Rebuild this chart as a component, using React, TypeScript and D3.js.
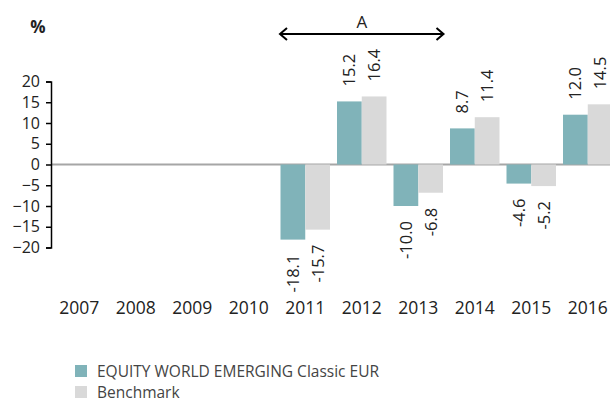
import React, { useEffect, useRef } from 'react';
import * as d3 from 'd3';

const years = ['2007', '2008', '2009', '2010', '2011', '2012', '2013', '2014', '2015', '2016'];
const fundValues: (number | null)[] = [null, null, null, null, -18.1, 15.2, -10.0, 8.7, -4.6, 12.0];
const benchValues: (number | null)[] = [null, null, null, null, -15.7, 16.4, -6.8, 11.4, -5.2, 14.5];
const yTicks = [20, 15, 10, 5, 0, -5, -10, -15, -20];
const seriesNames = ['EQUITY WORLD EMERGING Classic EUR', 'Benchmark'];
const seriesColors = ['#80b3b9', '#d9d9d9'];
const periodStart = '2011';
const periodEnd = '2013';
const periodLabel = 'A';

export default function App() {
  const svgRef = useRef<SVGSVGElement | null>(null);

  useEffect(() => {
    if (!svgRef.current) return;
    const svg = d3.select(svgRef.current);
    svg.selectAll('*').remove();

    const width = 610;
    const font = '"Open Sans", sans-serif';
    const left = 51;

    const x0 = d3.scaleBand().domain(years).range([left, left + 565]).paddingInner(0).paddingOuter(0);
    const x1 = d3.scaleBand().domain(seriesNames).range([3.5, x0.bandwidth() - 3.5]).padding(0);
    const y = d3.scaleLinear().domain([-20, 20]).range([247.5, 81.5]);

    // zero line
    svg.append('line')
      .attr('x1', left).attr('x2', width)
      .attr('y1', y(0)).attr('y2', y(0))
      .attr('stroke', '#a6a6a6').attr('stroke-width', 2);

    // bars
    const rows = years.map((yr, i) => ({ yr, vals: [fundValues[i], benchValues[i]] }));
    const groups = svg.selectAll('.grp').data(rows).join('g')
      .attr('class', 'grp')
      .attr('transform', d => `translate(${x0(d.yr)},0)`);

    groups.each(function (d) {
      const g = d3.select(this);
      d.vals.forEach((v, si) => {
        if (v === null) return;
        const bx = x1(seriesNames[si]) || 0;
        g.append('rect')
          .attr('x', bx)
          .attr('y', Math.min(y(v), y(0)))
          .attr('width', x1.bandwidth())
          .attr('height', Math.abs(y(v) - y(0)))
          .attr('fill', seriesColors[si]);
        const cx = bx + x1.bandwidth() / 2;
        const ty = v >= 0 ? y(v) - 15 : y(v) + 15;
        g.append('text')
          .attr('transform', `translate(${cx + 6},${ty}) rotate(-90)`)
          .attr('text-anchor', v >= 0 ? 'start' : 'end')
          .attr('font-family', font)
          .attr('font-size', 16.5)
          .attr('fill', '#222')
          .text(v.toFixed(1));
      });
    });

    // y axis
    const yAxis = svg.append('g')
      .attr('transform', `translate(${left},0)`)
      .call(d3.axisLeft(y).tickValues(yTicks).tickSize(5).tickSizeOuter(5).tickPadding(6));
    yAxis.select('.domain').attr('stroke', '#000').attr('stroke-width', 1.5);
    yAxis.selectAll('.tick line').attr('stroke', '#000').attr('stroke-width', 1.5);
    yAxis.selectAll('.tick text')
      .attr('font-family', font).attr('font-size', 16).attr('fill', '#222');

    // x labels
    svg.append('g').selectAll('text').data(years).join('text')
      .attr('x', d => (x0(d) || 0) + x0.bandwidth() / 2)
      .attr('y', 314)
      .attr('text-anchor', 'middle')
      .attr('font-family', font)
      .attr('font-size', 17.5)
      .attr('fill', '#222')
      .text(d => d);

    // % label
    svg.append('text')
      .attr('x', 38).attr('y', 33)
      .attr('text-anchor', 'middle')
      .attr('font-family', font)
      .attr('font-weight', 'bold')
      .attr('font-size', 17)
      .attr('fill', '#222')
      .text('%');

    // period arrow
    const ax1 = (x0(periodStart) || 0) + 3;
    const ax2 = (x0(periodEnd) || 0) + x0.bandwidth() - 3;
    const ay = 34;
    svg.append('line')
      .attr('x1', ax1).attr('x2', ax2).attr('y1', ay).attr('y2', ay)
      .attr('stroke', '#000').attr('stroke-width', 2);
    [[ax1, 1], [ax2, -1]].forEach(([px, dir]) => {
      svg.append('path')
        .attr('d', `M${px + dir * 7},${ay - 6} L${px},${ay} L${px + dir * 7},${ay + 6}`)
        .attr('fill', 'none').attr('stroke', '#000').attr('stroke-width', 2);
    });
    svg.append('text')
      .attr('x', (ax1 + ax2) / 2).attr('y', 28)
      .attr('text-anchor', 'middle')
      .attr('font-family', font)
      .attr('font-size', 17)
      .attr('fill', '#222')
      .text(periodLabel);

    // legend
    const legend = svg.append('g').selectAll('g').data(seriesNames).join('g')
      .attr('transform', (d, i) => `translate(75,${365 + i * 21})`);
    legend.append('rect')
      .attr('width', 12).attr('height', 12)
      .attr('fill', (d, i) => seriesColors[i]);
    legend.append('text')
      .attr('x', 22).attr('y', 11.5)
      .attr('font-family', font)
      .attr('font-size', 15.5)
      .attr('fill', '#444')
      .text(d => d);
  }, []);

  return (
    <svg ref={svgRef} width={610} height={403}
      style={{ position: 'absolute', left: 0, top: 0, background: '#fff' }} />
  );
}
